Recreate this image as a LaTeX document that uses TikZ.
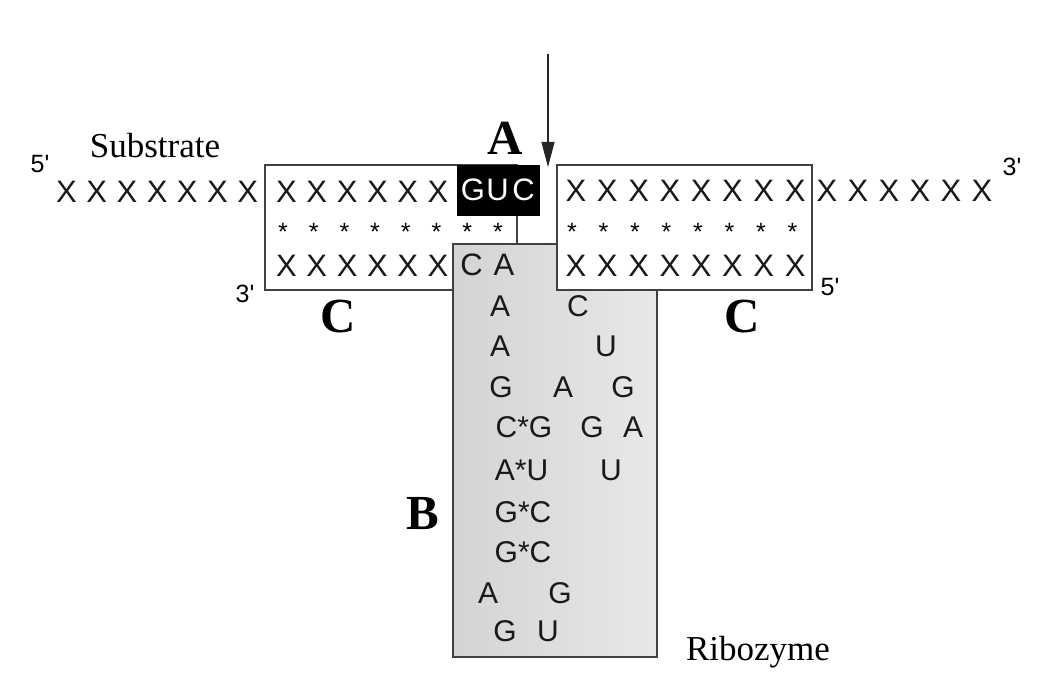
\documentclass[tikz,border=0pt]{standalone}
\usepackage{fontspec}
\setmainfont{Liberation Serif}
\newfontfamily\sansf{Liberation Sans}
\usetikzlibrary{arrows.meta}
\definecolor{edge}{gray}{0.25}
\tikzset{
  seq/.style={inner sep=0pt, anchor=base, font=\sansf\fontsize{31}{33}\selectfont, text=black!90},
  gseq/.style={inner sep=0pt, anchor=base, font=\sansf\fontsize{30}{32}\selectfont, text=black!90},
  pair/.style={inner sep=0pt, anchor=base, font=\sansf\fontsize{25}{27}\selectfont, text=black},
  endlbl/.style={inner sep=0pt, anchor=base, font=\sansf\fontsize{25}{27}\selectfont},
  biglbl/.style={inner sep=0pt, anchor=base, font=\bfseries\fontsize{49}{51}\selectfont},
  namelbl/.style={inner sep=0pt, anchor=base, font=\fontsize{35}{37}\selectfont},
  frame/.style={draw=edge, line width=1.1pt},
}
\begin{document}
\begin{tikzpicture}[x=1pt,y=-1pt]
\useasboundingbox (0,0) rectangle (1052,700);
% boxes
\draw[frame, fill=white] (265,165) rectangle (517,290);
\draw[frame, fill=white] (557,165) rectangle (812,290);
\path[left color=black!17, right color=black!9]
  (453,244) -- (557,244) -- (557,290) -- (657,290) -- (657,657) -- (453,657) -- cycle;
\draw[frame] (453,244) -- (557,244) -- (557,290) -- (657,290) -- (657,657) -- (453,657) -- cycle;
\node[draw=black, fill=black, minimum width=82pt, minimum height=50pt, inner sep=0pt] (guc) at (498,190) {};
% substrate top strand
\foreach \i in {0,...,6} \node[seq] (sL\i) at ({66.5+30.2*\i},203) {X};
\foreach \i in {0,...,5} \node[seq] (sM\i) at ({286.5+30.3*\i},203) {X};
\node[seq, text=white] (g1) at (473,201) {G};
\node[seq, text=white] (g2) at (497.5,201) {U};
\node[seq, text=white] (g3) at (523.5,201) {C};
\foreach \i in {0,...,7} \node[seq] (sR\i) at ({576+31.3*\i},202) {X};
\foreach \i in {0,...,5} \node[seq] (sO\i) at ({827+31*\i},202) {X};
% pairing stars
\foreach \i in {0,...,7} \node[pair] (pL\i) at ({283+30.7*\i},241) {*};
\foreach \i in {0,...,7} \node[pair] (pR\i) at ({572+31.5*\i},241) {*};
% ribozyme arms
\foreach \i in {0,...,5} \node[seq] (rL\i) at ({286.5+30.3*\i},277) {X};
\node[seq] (rC) at (471.5,276) {C};
\node[seq] (rA) at (504,276) {A};
\foreach \i in {0,...,7} \node[seq] (rR\i) at ({576+31.3*\i},277) {X};
% ribozyme core
\node[gseq] (k1a) at (500,317) {A};
\node[gseq] (k1b) at (578,317) {C};
\node[gseq] (k2a) at (500,357) {A};
\node[gseq] (k2b) at (606,357) {U};
\node[gseq] (k3a) at (501,397) {G};
\node[gseq] (k3b) at (563,397) {A};
\node[gseq] (k3c) at (623,397) {G};
\node[gseq] (k4a) at (524,437) {C*G};
\node[gseq] (k4b) at (592,437) {G};
\node[gseq] (k4c) at (633,437) {A};
\node[gseq] (k5a) at (521.5,480) {A*U};
\node[gseq] (k5b) at (611,480) {U};
\node[gseq] (k6) at (523,522) {G*C};
\node[gseq] (k7) at (523,562) {G*C};
\node[gseq] (k8a) at (488,603) {A};
\node[gseq] (k8b) at (560,603) {G};
\node[gseq] (k9a) at (505,641) {G};
\node[gseq] (k9b) at (548,641) {U};
% end labels
\node[endlbl] (e5a) at (40,173) {5'};
\node[endlbl] (e3a) at (1012,176) {3'};
\node[endlbl] (e3b) at (245,303) {3'};
\node[endlbl] (e5b) at (830,296) {5'};
% region labels
\node[biglbl] (lA) at (505,155) {A};
\node[biglbl] (lC1) at (338,333) {C};
\node[biglbl] (lC2) at (742,333) {C};
\node[biglbl] (lB) at (423,529) {B};
\node[namelbl] (sub) at (155,158) {Substrate};
\node[namelbl] (rib) at (758,660) {Ribozyme};
% cleavage arrow
\coordinate (atop) at (548,54);
\coordinate (cut) at (548,167);
\draw[black!85, line width=1.1pt, -{Triangle[length=25pt,width=13pt]}] (atop) -- (cut);
\end{tikzpicture}
\end{document}
